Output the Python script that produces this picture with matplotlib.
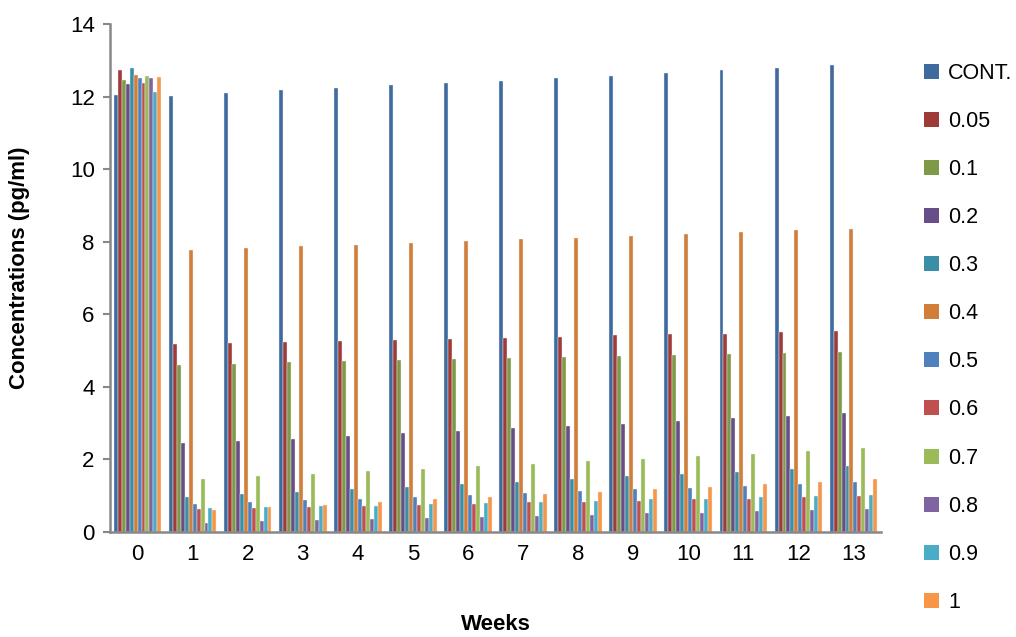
import matplotlib
matplotlib.use("Agg")
import matplotlib.pyplot as plt
import numpy as np
from matplotlib.patches import Patch

weeks = [str(i) for i in range(14)]
series = ["CONT.", "0.05", "0.1", "0.2", "0.3", "0.4", "0.5", "0.6", "0.7", "0.8", "0.9", "1"]

cont = [12.04, 12.02, 12.10, 12.17, 12.23, 12.31, 12.37, 12.44, 12.50, 12.57, 12.64, 12.72, 12.79, 12.86]
c005 = [12.73, 5.18, 5.20, 5.24, 5.27, 5.29, 5.32, 5.35, 5.37, 5.42, 5.45, 5.47, 5.50, 5.54]
c01 = [12.47, 4.60, 4.63, 4.68, 4.70, 4.73, 4.76, 4.79, 4.81, 4.85, 4.88, 4.90, 4.93, 4.97]
c02 = [12.34, 2.44, 2.50, 2.57, 2.65, 2.72, 2.78, 2.86, 2.92, 2.99, 3.07, 3.13, 3.21, 3.27]
c03 = [12.79, 0.96, 1.04, 1.10, 1.18, 1.24, 1.32, 1.39, 1.45, 1.53, 1.60, 1.66, 1.74, 1.82]
c04 = [12.59, 7.76, 7.82, 7.87, 7.92, 7.97, 8.03, 8.07, 8.11, 8.16, 8.21, 8.26, 8.32, 8.36]
c05 = [12.50, 0.77, 0.83, 0.88, 0.91, 0.96, 1.02, 1.07, 1.12, 1.18, 1.21, 1.27, 1.32, 1.38]
c06 = [12.37, 0.63, 0.65, 0.68, 0.71, 0.74, 0.78, 0.82, 0.83, 0.86, 0.90, 0.91, 0.96, 0.98]
c07 = [12.57, 1.46, 1.53, 1.60, 1.67, 1.74, 1.82, 1.88, 1.95, 2.02, 2.09, 2.16, 2.23, 2.31]
c08 = [12.52, 0.26, 0.29, 0.32, 0.35, 0.39, 0.42, 0.44, 0.47, 0.51, 0.53, 0.57, 0.60, 0.63]
c09 = [12.12, 0.65, 0.68, 0.71, 0.73, 0.77, 0.81, 0.83, 0.85, 0.90, 0.91, 0.96, 0.98, 1.01]
c1 = [12.54, 0.61, 0.68, 0.75, 0.83, 0.90, 0.96, 1.04, 1.10, 1.18, 1.24, 1.32, 1.39, 1.46]

values = [cont, c005, c01, c02, c03, c04, c05, c06, c07, c08, c09, c1]
colors = ["#3E6B9F", "#9E3B39", "#7E9A48", "#674E88", "#3A8EA5", "#D07E3A",
          "#4F81BD", "#C0504D", "#9BBB59", "#8064A2", "#4BACC6", "#F79646"]

plt.rcParams['font.family'] = ['Liberation Sans', 'DejaVu Sans']

fig = plt.figure(figsize=(10.16, 6.37), dpi=100)
ax = fig.add_axes([110/1016, 1-532/637, (881-110)/1016, (532-24)/637])

x = np.arange(len(weeks))
n = len(series)
bw = 0.072
for i, (vals, col) in enumerate(zip(values, colors)):
    ax.bar(x + (i - (n - 1) / 2) * bw, vals, width=bw, color=col,
           edgecolor="#f0f0f0", linewidth=0.3)

ax.set_xlim(-0.5, len(weeks) - 0.5)
ax.set_ylim(0, 14)
ax.set_yticks(range(0, 15, 2))
ax.set_xticks(x)
ax.set_xticklabels(weeks)
ax.tick_params(axis='y', labelsize=16, length=5, color="#888888", width=1.5, pad=6)
ax.tick_params(axis='x', labelsize=16, length=0, pad=9)
for s in ["top", "right"]:
    ax.spines[s].set_visible(False)
for s in ["left", "bottom"]:
    ax.spines[s].set_color("#888888")
    ax.spines[s].set_linewidth(1.8)

fig.text(20/1016, 1-268/637, "Concentrations (pg/ml)", fontsize=16, fontweight="bold",
         rotation=90, ha="center", va="center")
fig.text(496/1016, 1-624/637, "Weeks", fontsize=16, fontweight="bold", ha="center", va="center")

handles = [Patch(facecolor=c, edgecolor="none") for c in colors]
fig.legend(handles, series, loc="upper left", bbox_to_anchor=(915/1016, 1-54/637),
           frameon=False, fontsize=15.5, handlelength=0.7, handleheight=0.7,
           handletextpad=0.45, labelspacing=1.26, borderaxespad=0)

fig.savefig("out.png", dpi=100)
